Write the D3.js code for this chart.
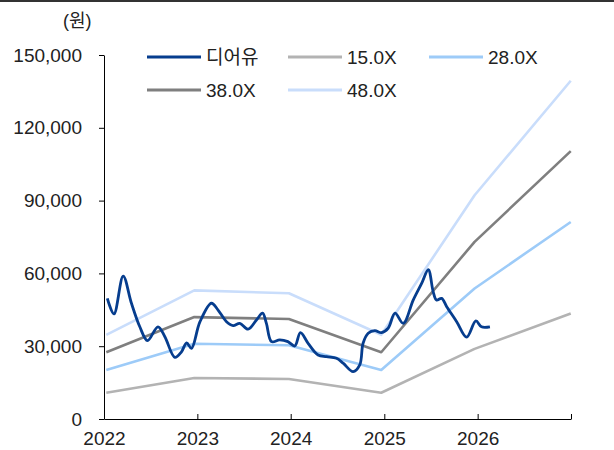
<!DOCTYPE html>
<html><head><meta charset="utf-8">
<script src="https://cdn.jsdelivr.net/npm/d3@7"></script>
<style>
body{margin:0;background:#fff;}
svg{display:block;font-family:"Liberation Sans","Noto Sans CJK KR",sans-serif;}
</style></head>
<body><svg id="c" width="614" height="450"></svg>
<script>
// ---- data ----
const unitLabel = "(원)";
const yTicks = [0, 30000, 60000, 90000, 120000, 150000];
const xTickYears = ["2022", "2023", "2024", "2025", "2026", "2027"];
const xTickLabels = ["2022", "2023", "2024", "2025", "2026", ""];

const priceName = "디어유";
const priceDates = ["2022-01-14","2022-02-09","2022-03-17","2022-04-18","2022-05-21","2022-06-20","2022-07-31","2022-08-27","2022-10-05","2022-10-31","2022-11-20","2022-12-09","2023-01-11","2023-02-25","2023-03-23","2023-04-25","2023-05-21","2023-06-16","2023-07-18","2023-08-20","2023-09-13","2023-09-28","2023-10-18","2023-11-19","2023-12-21","2024-01-17","2024-02-08","2024-03-09","2024-04-17","2024-05-20","2024-06-28","2024-07-24","2024-09-01","2024-09-27","2024-10-10","2024-10-30","2024-11-25","2024-12-21","2025-01-16","2025-02-12","2025-03-16","2025-04-24","2025-05-27","2025-06-22","2025-07-11","2025-07-24","2025-08-13","2025-09-02","2025-10-11","2025-11-19","2025-12-25","2026-01-16","2026-02-18"];
const priceValues = [49700,43300,58900,47800,38000,32300,38000,33900,25400,27700,31400,29100,40000,47700,44900,40100,38500,39400,37000,40800,43600,39400,31900,32600,31900,30100,35600,31200,26400,25700,25000,23000,19500,22300,31200,35300,36400,35600,37400,43600,39400,49000,55900,61500,52500,49000,49700,46300,40100,33700,40400,38000,38000];

const bandDates = ["2022-01-10","2022-12-20","2023-12-25","2024-12-20","2025-12-20","2026-12-31"];
const bandNames = ["15.0X", "28.0X", "38.0X", "48.0X"];
const band15 = [10800, 16900, 16500, 10800, 28900, 43500];
const band28 = [20200, 31000, 30400, 20200, 53800, 81200];
const band38 = [27500, 42000, 41200, 27500, 73000, 110400];
const band48 = [34700, 53000, 51800, 34700, 92200, 139400];

const colors = {"디어유":"#063d8e","15.0X":"#b3b3b3","28.0X":"#9dcbf8","38.0X":"#7f7f7f","48.0X":"#c9ddfb"};

// ---- drawing ----
const svg = d3.select("#c");
const parse = d3.timeParse("%Y-%m-%d");
const x = d3.scaleTime().domain([parse("2022-01-01"), parse("2027-01-01")]).range([104, 571]);
const y = d3.scaleLinear().domain([0, 150000]).range([419, 55]);

svg.append("rect").attr("x",0).attr("y",0).attr("width",614).attr("height",2).attr("fill","#333");

svg.append("text").attr("x",63).attr("y",27).attr("font-size",18).attr("fill","#222").text(unitLabel);

// y axis
const yAxis = d3.axisLeft(y).tickValues(yTicks).tickSize(5).tickSizeOuter(0).tickFormat(d3.format(","));
const gy = svg.append("g").attr("transform","translate(104,0)").call(yAxis);
gy.select(".domain").attr("stroke","#000");
gy.selectAll(".tick line").attr("stroke","#000");
gy.selectAll("text").attr("font-size",19).attr("fill","#222").attr("x",-22).attr("font-family","Liberation Sans");

// x axis
const xAxis = d3.axisBottom(x).tickValues(xTickYears.map(v=>parse(v+"-01-01"))).tickSize(-5).tickSizeOuter(0)
  .tickFormat((d,i)=>xTickLabels[i]);
const gx = svg.append("g").attr("transform","translate(0,419)").call(xAxis);
gx.select(".domain").attr("stroke","#000");
gx.selectAll(".tick line").attr("stroke","#000");
gx.selectAll("text").attr("font-size",19).attr("fill","#222").attr("y",13).attr("font-family","Liberation Sans");

// band lines
const bandLine = d3.line().x((d,i)=>x(parse(bandDates[i]))).y(d=>y(d));
const bands = [band15, band28, band38, band48];
bands.forEach((vals, k)=>{
  svg.append("path").attr("d", bandLine(vals)).attr("fill","none")
    .attr("stroke", colors[bandNames[k]]).attr("stroke-width",2.6).attr("stroke-linejoin","round");
});

// price line
const priceLine = d3.line().x((d,i)=>x(parse(priceDates[i]))).y(d=>y(d)).curve(d3.curveCatmullRom.alpha(0.5));
svg.append("path").attr("d", priceLine(priceValues)).attr("fill","none")
  .attr("stroke", colors[priceName]).attr("stroke-width",2.8).attr("stroke-linejoin","round");

// legend
const legendItems = [
  {name: priceName, x: 147, y: 57},
  {name: "15.0X", x: 288, y: 57},
  {name: "28.0X", x: 429, y: 57},
  {name: "38.0X", x: 147, y: 90},
  {name: "48.0X", x: 288, y: 90}
];
const lg = svg.append("g");
legendItems.forEach(it=>{
  lg.append("line").attr("x1",it.x).attr("x2",it.x+54).attr("y1",it.y).attr("y2",it.y)
    .attr("stroke",colors[it.name]).attr("stroke-width",3);
  lg.append("text").attr("x",it.x+59).attr("y",it.y).attr("dy","0.36em").attr("font-size",19).attr("fill","#222").text(it.name);
});
</script></body></html>
